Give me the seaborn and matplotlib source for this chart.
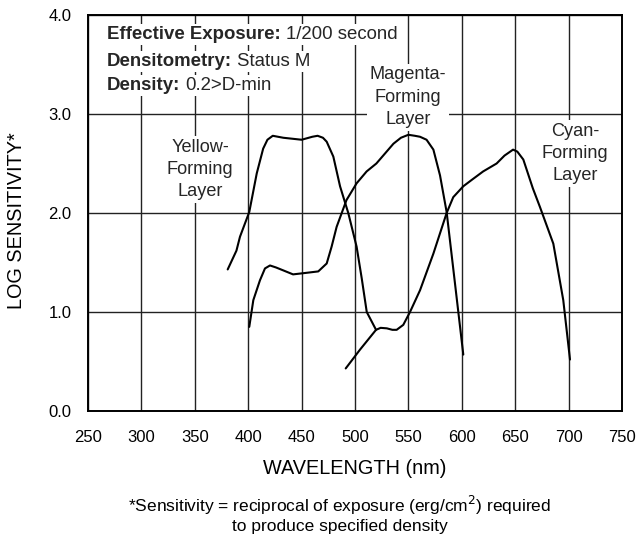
import matplotlib
matplotlib.use("Agg")
import matplotlib.pyplot as plt
import seaborn as sns
import pandas as pd

# ---- data ----
yellow_nm = [380.8, 389, 392.3, 401, 408, 414, 418, 423, 432.9, 450, 460, 465, 470, 473.5, 479.7, 486, 493.7, 501.5, 506.3, 511, 519.7]
yellow_ls = [1.43, 1.62, 1.76, 2.01, 2.40, 2.65, 2.74, 2.78, 2.76, 2.74, 2.77, 2.78, 2.76, 2.72, 2.57, 2.27, 2.00, 1.66, 1.34, 1.00, 0.82]

magenta_nm = [401, 404.8, 411, 415.7, 420.4, 426, 432.9, 442, 450, 457.9, 465.6, 473.5, 478.1, 482.8, 492, 501.5, 510.9, 520, 528, 536, 543, 550, 556, 560.9, 567, 573.4, 579.6, 585.8, 593.6, 601.4]
magenta_ls = [0.85, 1.12, 1.32, 1.44, 1.47, 1.45, 1.42, 1.38, 1.39, 1.40, 1.41, 1.49, 1.66, 1.86, 2.13, 2.30, 2.42, 2.50, 2.60, 2.70, 2.76, 2.79, 2.78, 2.77, 2.74, 2.64, 2.38, 2.01, 1.29, 0.57]

cyan_nm = [491.3, 504.7, 519.7, 524, 529.8, 535, 539, 545.2, 551.5, 560.9, 573.4, 585.8, 592, 601.4, 610, 620, 632.6, 640, 648, 652, 657.6, 666.5, 673.2, 685.7, 695, 701.3]
cyan_ls = [0.43, 0.62, 0.82, 0.84, 0.835, 0.82, 0.82, 0.87, 1.00, 1.22, 1.59, 2.00, 2.16, 2.27, 2.34, 2.42, 2.50, 2.58, 2.64, 2.62, 2.54, 2.25, 2.06, 1.69, 1.12, 0.52]

x_ticks = [250, 300, 350, 400, 450, 500, 550, 600, 650, 700, 750]
y_ticks = [0.0, 1.0, 2.0, 3.0, 4.0]

layer_names = ["Yellow-\nForming\nLayer", "Magenta-\nForming\nLayer", "Cyan-\nForming\nLayer"]
layer_label_pos = [(354.9, 2.44), (549.6, 3.17), (706.0, 2.60)]

info_bold = ["Effective Exposure:", "Densitometry:", "Density:"]
info_text = ["1/200 second", "Status M", "0.2>D-min"]
info_y = [3.80, 3.53, 3.29]

# ---- style ----
sns.set_theme(style="white")
plt.rcParams["font.family"] = ["Liberation Sans", "DejaVu Sans"]
plt.rcParams["font.size"] = 12

fig = plt.figure(figsize=(6.42, 5.40), dpi=100)
ax = fig.add_axes([88 / 642, 1 - 411 / 540, (622 - 88) / 642, (411 - 15) / 540])

frames = []
for name, xs, ys in [("Yellow", yellow_nm, yellow_ls), ("Magenta", magenta_nm, magenta_ls), ("Cyan", cyan_nm, cyan_ls)]:
    frames.append(pd.DataFrame({"nm": xs, "logs": ys, "layer": name}))
df = pd.concat(frames, ignore_index=True)

for name in ["Yellow", "Magenta", "Cyan"]:
    sub = df[df["layer"] == name]
    sns.lineplot(data=sub, x="nm", y="logs", sort=False, estimator=None,
                 color="black", linewidth=1.5, ax=ax, zorder=3)

ax.set_xlim(250, 750)
ax.set_ylim(0, 4)
ax.set_xticks(x_ticks)
ax.set_xticklabels([str(t) for t in x_ticks])
ax.set_yticks(y_ticks)
ax.set_yticklabels([f"{t:.1f}" for t in y_ticks])
ax.grid(True, color="#222222", linewidth=1.0)
ax.set_axisbelow(True)
for s in ax.spines.values():
    s.set_color("black")
    s.set_linewidth(1.4)
ax.tick_params(axis="both", length=0, labelsize=12, colors="black")
ax.tick_params(axis="x", pad=14)
ax.tick_params(axis="y", pad=12)
ax.set_ylabel("")
ax.set_xlabel("WAVELENGTH (nm)", fontsize=14.3, color="black")
ax.xaxis.label.set_verticalalignment("center")
ax.xaxis.set_label_coords(0.5, (411 - 469) / 396)

# info block
bb = dict(facecolor="white", edgecolor="none", pad=1.5)
for b, t, y in zip(info_bold, info_text, info_y):
    t1 = ax.text(267.5, y, b, fontweight="bold", fontsize=13.4, ha="left", va="center", bbox=bb, zorder=4)
    ax.annotate(t, xy=(1, 0.5), xycoords=t1, xytext=(4, 0), textcoords="offset points",
                ha="left", va="center", fontsize=13.4, bbox=bb, zorder=4)

# layer labels
for name, (lx, ly) in zip(layer_names, layer_label_pos):
    ax.text(lx, ly, name, ha="center", va="center", fontsize=13.1, linespacing=1.4,
            bbox=dict(facecolor="white", edgecolor="none", pad=2), zorder=4)

# y label
fig.text(17 / 642, 1 - 221 / 540, "LOG SENSITIVITY*", rotation=90, ha="center", va="center",
         fontsize=14.3, color="black")

# footnote
fig.text(340 / 642, 1 - 505 / 540, "*Sensitivity = reciprocal of exposure (erg/cm$^2$) required",
         ha="center", va="center", fontsize=12.5, color="black")
fig.text(340 / 642, 1 - 527 / 540, "to produce specified density",
         ha="center", va="center", fontsize=12.5, color="black")

fig.savefig("out.png", dpi=100)
